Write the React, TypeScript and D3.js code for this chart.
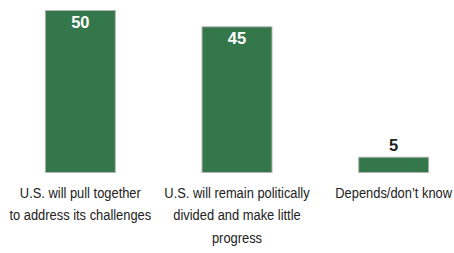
import React from 'react';
import * as d3 from 'd3';

const categories = [
  ['U.S. will pull together', 'to address its challenges'],
  ['U.S. will remain politically', 'divided and make little', 'progress'],
  ['Depends/don\u2019t know'],
];
const values = [50, 45, 5];

const W = 454;
const H = 253;
const base = 173;
const font = '"Liberation Sans", Arial, sans-serif';
const squeeze = 0.86; // fake a condensed face

const App = () => {
  const x = d3.scaleBand<number>()
    .domain(d3.range(values.length))
    .range([2, 472])
    .paddingInner(0.547)
    .paddingOuter(0.2735);
  const y = d3.scaleLinear().domain([0, 50]).range([base, 10]);

  return (
    <svg width={W} height={H} style={{ position: 'absolute', left: 0, top: 0, background: '#fff' }}>
      {values.map((v, i) => {
        const cx = x(i)! + x.bandwidth() / 2;
        const inside = v > 10;
        return (
          <g key={i}>
            <rect
              x={x(i)! + 0.5}
              y={y(v) + 0.5}
              width={x.bandwidth() - 1}
              height={base - y(v) - 1}
              fill="#34774a"
              stroke="#b4b4b4"
              strokeWidth={1}
            />
            <text
              x={cx}
              y={inside ? y(v) + 18 : y(v) - 6}
              textAnchor="middle"
              fontFamily={font}
              fontWeight="bold"
              fontSize={16.5}
              fill={inside ? '#fff' : '#222'}
            >
              {v}
            </text>
            <g transform={`translate(${cx},0) scale(${squeeze},1)`}>
              <text x={0} y={198} textAnchor="middle" fontFamily={font} fontSize={15} fill="#222">
                {categories[i].map((line, j) => (
                  <tspan key={j} x={0} dy={j === 0 ? 0 : 22.5}>{line}</tspan>
                ))}
              </text>
            </g>
          </g>
        );
      })}
    </svg>
  );
};

export default App;
